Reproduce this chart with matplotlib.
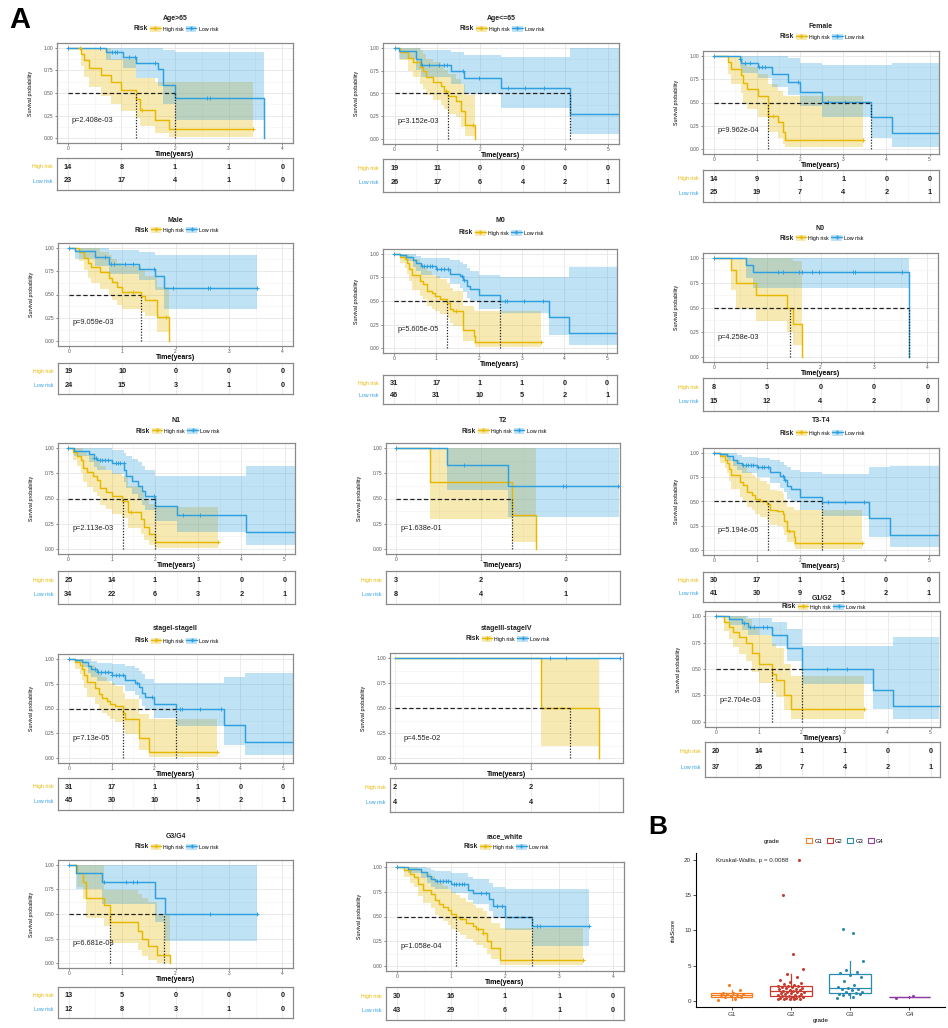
import numpy as np
import matplotlib
matplotlib.use("Agg")
import matplotlib.pyplot as plt
from matplotlib.lines import Line2D
from matplotlib.patches import Patch

plt.rcParams["font.family"] = ["Liberation Sans", "DejaVu Sans"]

W, H = 948, 1028
HIGH_COL = "#E7B800"
LOW_COL = "#2E9FDF"

# ── KM curves: step times, survival, CI bounds, censor times ──
AGE_GT65_HIGH = dict(t=[0, 0.24, 0.30, 0.40, 0.62, 0.80, 0.99, 1.28, 1.34, 1.62, 1.89, 3.45],
                     s=[1.0, 0.93, 0.86, 0.78, 0.70, 0.62, 0.53, 0.43, 0.31, 0.20, 0.10, 0.10],
                     lo=[1.0, 0.80, 0.68, 0.57, 0.47, 0.38, 0.30, 0.22, 0.14, 0.06, 0.02, 0.02],
                     hi=[1.0, 1.0, 1.0, 1.0, 1.0, 0.87, 0.87, 0.67, 0.67, 0.62, 0.62, 0.62],
                     cens=[0.22, 1.38, 3.45])
AGE_GT65_LOW = dict(t=[0, 0.72, 1.03, 1.28, 1.69, 1.78, 2.0, 3.66],
                    s=[1.0, 0.95, 0.90, 0.83, 0.76, 0.59, 0.44, 0.0],
                    lo=[1.0, 0.86, 0.77, 0.67, 0.58, 0.38, 0.20, 0.0],
                    hi=[1.0, 1.0, 1.0, 1.0, 1.0, 0.97, 0.95, 0.0],
                    cens=[0.0, 0.6, 0.82, 0.88, 0.92, 1.15, 1.25, 1.63, 2.6, 2.65])

AGE_LE65_HIGH = dict(t=[0, 0.12, 0.31, 0.43, 0.59, 0.66, 0.74, 0.90, 1.09, 1.17, 1.25, 1.45, 1.56, 1.64, 1.88],
                     s=[1.0, 0.95, 0.89, 0.84, 0.79, 0.74, 0.68, 0.63, 0.58, 0.53, 0.47, 0.42, 0.31, 0.16, 0.0],
                     lo=[1.0, 0.87, 0.75, 0.68, 0.60, 0.55, 0.48, 0.43, 0.38, 0.33, 0.28, 0.24, 0.13, 0.04, 0.0],
                     hi=[1.0, 1.0, 1.0, 1.0, 0.97, 0.93, 0.88, 0.84, 0.80, 0.76, 0.71, 0.66, 0.60, 0.48, 0.0],
                     cens=[1.2, 1.85])
AGE_LE65_LOW = dict(t=[0, 0.10, 0.50, 0.63, 1.33, 1.62, 2.50, 4.12, 5.26],
                    s=[1.0, 0.96, 0.88, 0.81, 0.74, 0.67, 0.555, 0.28, 0.28],
                    lo=[1.0, 0.88, 0.76, 0.68, 0.60, 0.50, 0.34, 0.06, 0.06],
                    hi=[1.0, 1.0, 1.0, 0.97, 0.95, 0.92, 0.90, 1.0, 1.0],
                    cens=[0.02, 0.65, 0.8, 1.05, 1.15, 1.22, 1.6, 1.98, 2.65, 3.05, 3.5])

FEMALE_HIGH = dict(t=[0, 0.33, 0.41, 0.64, 0.68, 0.77, 1.03, 1.26, 1.49, 1.60, 1.66, 3.45],
                   s=[1.0, 0.93, 0.86, 0.79, 0.71, 0.64, 0.57, 0.36, 0.29, 0.19, 0.095, 0.095],
                   lo=[1.0, 0.80, 0.70, 0.60, 0.50, 0.43, 0.35, 0.18, 0.12, 0.06, 0.02, 0.02],
                   hi=[1.0, 1.0, 1.0, 1.0, 0.92, 0.88, 0.80, 0.70, 0.62, 0.57, 0.57, 0.57],
                   cens=[1.38, 3.45])
FEMALE_LOW = dict(t=[0, 0.60, 0.64, 1.03, 1.34, 1.72, 2.00, 2.50, 3.65, 4.12, 5.22],
                  s=[1.0, 0.96, 0.92, 0.88, 0.80, 0.72, 0.61, 0.51, 0.34, 0.17, 0.17],
                  lo=[1.0, 0.88, 0.82, 0.76, 0.67, 0.58, 0.46, 0.35, 0.12, 0.03, 0.03],
                  hi=[1.0, 1.0, 1.0, 1.0, 1.0, 0.97, 0.92, 0.90, 0.90, 0.92, 0.92],
                  cens=[0.0, 0.6, 0.72, 0.85, 1.05, 1.12, 1.18, 1.95, 2.65, 3.05])

MALE_HIGH = dict(t=[0, 0.19, 0.28, 0.36, 0.41, 0.59, 0.75, 0.81, 0.91, 1.00, 1.36, 1.42, 1.66, 1.88],
                 s=[1.0, 0.95, 0.89, 0.84, 0.79, 0.74, 0.68, 0.63, 0.58, 0.53, 0.48, 0.44, 0.26, 0.0],
                 lo=[1.0, 0.86, 0.76, 0.68, 0.62, 0.56, 0.49, 0.44, 0.39, 0.35, 0.31, 0.27, 0.10, 0.0],
                 hi=[1.0, 1.0, 1.0, 1.0, 1.0, 0.95, 0.92, 0.88, 0.84, 0.80, 0.76, 0.70, 0.58, 0.0],
                 cens=[1.2, 1.82])
MALE_LOW = dict(t=[0, 0.12, 0.50, 0.75, 1.31, 1.62, 1.78, 3.53],
                s=[1.0, 0.96, 0.90, 0.83, 0.77, 0.70, 0.57, 0.57],
                lo=[1.0, 0.88, 0.80, 0.72, 0.65, 0.55, 0.35, 0.35],
                hi=[1.0, 1.0, 1.0, 0.97, 0.95, 0.92, 0.92, 0.92],
                cens=[0.0, 0.68, 0.8, 0.85, 1.05, 1.2, 1.6, 1.95, 2.6, 2.65, 3.53])

M0_HIGH = dict(t=[0, 0.14, 0.26, 0.31, 0.36, 0.42, 0.61, 0.69, 0.78, 0.89, 0.96, 1.08, 1.26, 1.33, 1.38, 1.63, 1.87, 1.90, 3.45],
               s=[1.0, 0.97, 0.94, 0.90, 0.84, 0.77, 0.71, 0.68, 0.61, 0.58, 0.55, 0.52, 0.48, 0.42, 0.39, 0.19, 0.13, 0.065, 0.065],
               lo=[1.0, 0.90, 0.85, 0.79, 0.71, 0.62, 0.55, 0.52, 0.45, 0.42, 0.39, 0.36, 0.32, 0.27, 0.24, 0.08, 0.04, 0.01, 0.01],
               hi=[1.0, 1.0, 1.0, 1.0, 0.98, 0.94, 0.89, 0.87, 0.82, 0.78, 0.76, 0.73, 0.69, 0.64, 0.61, 0.45, 0.40, 0.39, 0.39],
               cens=[1.45, 3.45])
M0_LOW = dict(t=[0, 0.14, 0.30, 0.45, 0.53, 0.65, 1.00, 1.32, 1.55, 1.63, 1.71, 1.79, 2.00, 2.50, 3.63, 4.10, 5.23],
              s=[1.0, 0.99, 0.97, 0.93, 0.90, 0.87, 0.84, 0.79, 0.76, 0.72, 0.66, 0.63, 0.56, 0.50, 0.33, 0.165, 0.165],
              lo=[1.0, 0.96, 0.92, 0.86, 0.82, 0.78, 0.74, 0.68, 0.64, 0.60, 0.53, 0.50, 0.42, 0.37, 0.14, 0.03, 0.03],
              hi=[1.0, 1.0, 1.0, 1.0, 0.98, 0.96, 0.95, 0.93, 0.91, 0.89, 0.85, 0.82, 0.78, 0.75, 0.75, 0.86, 0.86],
              cens=[0.0, 0.66, 0.72, 0.78, 0.84, 0.9, 1.02, 1.1, 1.18, 1.27, 1.6, 1.65, 2.6, 2.65, 3.05, 3.5])

N0_HIGH = dict(t=[0, 0.33, 0.41, 0.80, 1.37, 1.49, 1.65],
               s=[1.0, 0.875, 0.75, 0.625, 0.5, 0.333, 0.0],
               lo=[1.0, 0.68, 0.48, 0.36, 0.25, 0.12, 0.0],
               hi=[1.0, 1.0, 1.0, 1.0, 1.0, 0.97, 0.0],
               cens=[])
N0_LOW = dict(t=[0, 0.61, 0.73, 3.65],
              s=[1.0, 0.93, 0.857, 0.0],
              lo=[1.0, 0.80, 0.70, 0.0],
              hi=[1.0, 1.0, 1.0, 0.0],
              cens=[0.0, 1.2, 1.3, 1.6, 1.65, 1.85, 1.97, 2.6, 2.65, 3.52])

N1_HIGH = dict(t=[0, 0.10, 0.19, 0.29, 0.33, 0.43, 0.57, 0.67, 0.74, 0.86, 1.00, 1.25, 1.38, 1.67, 1.76, 1.86, 2.00, 3.45],
               s=[1.0, 0.96, 0.92, 0.88, 0.80, 0.76, 0.72, 0.68, 0.60, 0.56, 0.52, 0.48, 0.37, 0.30, 0.22, 0.15, 0.07, 0.07],
               lo=[1.0, 0.88, 0.82, 0.75, 0.66, 0.61, 0.56, 0.52, 0.44, 0.40, 0.35, 0.31, 0.21, 0.15, 0.09, 0.04, 0.01, 0.01],
               hi=[1.0, 1.0, 1.0, 1.0, 0.96, 0.93, 0.90, 0.87, 0.82, 0.78, 0.75, 0.72, 0.62, 0.57, 0.50, 0.45, 0.42, 0.42],
               cens=[1.45, 3.45])
N1_LOW = dict(t=[0, 0.14, 0.48, 0.60, 0.67, 1.00, 1.29, 1.33, 1.48, 1.62, 1.71, 1.78, 2.00, 2.50, 4.10, 5.24],
              s=[1.0, 0.97, 0.94, 0.90, 0.88, 0.85, 0.78, 0.72, 0.67, 0.62, 0.57, 0.52, 0.43, 0.34, 0.17, 0.17],
              lo=[1.0, 0.92, 0.86, 0.81, 0.78, 0.74, 0.66, 0.60, 0.54, 0.49, 0.44, 0.39, 0.28, 0.17, 0.04, 0.04],
              hi=[1.0, 1.0, 1.0, 1.0, 1.0, 0.98, 0.95, 0.92, 0.89, 0.86, 0.82, 0.78, 0.72, 0.72, 0.82, 0.82],
              cens=[0.0, 0.6, 0.65, 0.72, 0.78, 0.85, 0.92, 1.1, 1.15, 1.2, 1.28, 1.98, 2.65, 3.05])

T2_HIGH = dict(t=[0, 0.40, 1.365, 1.65],
               s=[1.0, 0.667, 0.333, 0.0],
               lo=[1.0, 0.30, 0.07, 0.0],
               hi=[1.0, 1.0, 1.0, 0.0],
               cens=[])
T2_LOW = dict(t=[0, 0.60, 1.32, 2.63],
              s=[1.0, 0.833, 0.625, 0.625],
              lo=[1.0, 0.58, 0.32, 0.32],
              hi=[1.0, 1.0, 1.0, 1.0],
              cens=[0.0, 0.8, 1.97, 2.0, 2.62])

T34_HIGH = dict(t=[0, 0.14, 0.26, 0.31, 0.36, 0.41, 0.61, 0.68, 0.78, 0.88, 0.96, 1.07, 1.25, 1.32, 1.46, 1.60, 1.63, 1.70, 1.87, 1.90, 3.45],
                s=[1.0, 0.97, 0.93, 0.90, 0.83, 0.77, 0.70, 0.67, 0.60, 0.57, 0.53, 0.50, 0.47, 0.41, 0.40, 0.37, 0.30, 0.20, 0.13, 0.07, 0.07],
                lo=[1.0, 0.90, 0.84, 0.79, 0.71, 0.63, 0.55, 0.51, 0.44, 0.41, 0.37, 0.34, 0.31, 0.26, 0.25, 0.22, 0.16, 0.08, 0.04, 0.01, 0.01],
                hi=[1.0, 1.0, 1.0, 1.0, 0.97, 0.93, 0.88, 0.86, 0.80, 0.77, 0.74, 0.71, 0.68, 0.62, 0.61, 0.58, 0.52, 0.44, 0.41, 0.41, 0.41],
                cens=[1.75, 3.45])
T34_LOW = dict(t=[0, 0.14, 0.30, 0.45, 0.53, 0.65, 1.00, 1.32, 1.55, 1.63, 1.71, 1.79, 2.00, 2.51, 3.60, 4.10, 5.24],
               s=[1.0, 0.99, 0.97, 0.93, 0.90, 0.88, 0.85, 0.80, 0.76, 0.72, 0.66, 0.63, 0.55, 0.49, 0.33, 0.16, 0.16],
               lo=[1.0, 0.96, 0.92, 0.86, 0.82, 0.79, 0.75, 0.69, 0.64, 0.60, 0.53, 0.50, 0.41, 0.35, 0.13, 0.03, 0.03],
               hi=[1.0, 1.0, 1.0, 1.0, 0.98, 0.96, 0.95, 0.93, 0.91, 0.88, 0.85, 0.82, 0.80, 0.78, 0.85, 0.87, 0.87],
               cens=[0.0, 0.68, 0.74, 0.8, 0.86, 0.92, 1.04, 1.12, 1.18, 1.27, 1.6, 1.65, 2.65, 3.05, 3.5])

ST12_HIGH = dict(t=[0, 0.14, 0.26, 0.31, 0.36, 0.42, 0.61, 0.70, 0.78, 0.89, 0.96, 1.08, 1.27, 1.31, 1.63, 1.87, 3.45],
                 s=[1.0, 0.97, 0.94, 0.90, 0.84, 0.77, 0.71, 0.65, 0.61, 0.58, 0.55, 0.53, 0.45, 0.39, 0.20, 0.065, 0.065],
                 lo=[1.0, 0.90, 0.85, 0.79, 0.71, 0.62, 0.55, 0.49, 0.45, 0.42, 0.39, 0.36, 0.29, 0.24, 0.08, 0.01, 0.01],
                 hi=[1.0, 1.0, 1.0, 1.0, 0.98, 0.94, 0.89, 0.85, 0.82, 0.78, 0.76, 0.73, 0.66, 0.60, 0.44, 0.39, 0.39],
                 cens=[3.45])
ST12_LOW = dict(t=[0, 0.14, 0.30, 0.45, 0.53, 0.65, 1.00, 1.32, 1.55, 1.63, 1.71, 1.79, 2.00, 2.50, 3.63, 4.12, 5.23],
                s=[1.0, 0.99, 0.97, 0.93, 0.90, 0.87, 0.84, 0.79, 0.76, 0.72, 0.66, 0.62, 0.55, 0.50, 0.33, 0.16, 0.16],
                lo=[1.0, 0.96, 0.92, 0.86, 0.82, 0.78, 0.74, 0.68, 0.64, 0.60, 0.53, 0.48, 0.40, 0.32, 0.13, 0.03, 0.03],
                hi=[1.0, 1.0, 1.0, 1.0, 0.98, 0.96, 0.95, 0.93, 0.91, 0.88, 0.85, 0.80, 0.76, 0.76, 0.82, 0.86, 0.86],
                cens=[0.0, 0.62, 0.68, 0.76, 0.84, 0.92, 1.02, 1.1, 1.18, 1.27, 1.6, 1.95, 2.6, 2.65, 3.05, 3.55])

ST34_HIGH = dict(t=[0, 1.08, 1.50], s=[1.0, 0.5, 0.0],
                 lo=[1.0, 0.12, 0.0], hi=[1.0, 1.0, 0.0], cens=[])
ST34_LOW = dict(t=[0, 1.66], s=[1.0, 1.0],
                lo=[1.0, 1.0], hi=[1.0, 1.0], cens=[1.14, 1.26, 1.66])

G12_HIGH = dict(t=[0, 0.2, 0.3, 0.4, 0.55, 0.7, 0.85, 1.0, 1.3, 1.4, 1.6, 1.75, 3.45],
                s=[1.0, 0.95, 0.90, 0.85, 0.80, 0.75, 0.65, 0.55, 0.45, 0.40, 0.25, 0.12, 0.12],
                lo=[1.0, 0.86, 0.78, 0.71, 0.64, 0.58, 0.47, 0.37, 0.28, 0.23, 0.11, 0.03, 0.03],
                hi=[1.0, 1.0, 1.0, 1.0, 1.0, 0.97, 0.90, 0.82, 0.74, 0.70, 0.55, 0.43, 0.43],
                cens=[3.45])
G12_LOW = dict(t=[0, 0.3, 0.6, 0.75, 1.3, 1.65, 2.0, 3.65, 4.12, 5.2],
               s=[1.0, 0.97, 0.94, 0.90, 0.82, 0.70, 0.50, 0.30, 0.15, 0.15],
               lo=[1.0, 0.92, 0.87, 0.82, 0.72, 0.58, 0.36, 0.12, 0.03, 0.03],
               hi=[1.0, 1.0, 1.0, 0.98, 0.95, 0.88, 0.72, 0.72, 0.80, 0.80],
               cens=[0.0, 0.65, 0.8, 0.9, 1.1, 1.2, 2.6, 3.05])

G34_HIGH = dict(t=[0, 0.15, 0.27, 0.33, 0.66, 0.77, 1.30, 1.37, 1.48, 1.65, 1.90],
                s=[1.0, 0.92, 0.83, 0.66, 0.59, 0.42, 0.33, 0.25, 0.17, 0.085, 0.0],
                lo=[1.0, 0.78, 0.65, 0.46, 0.38, 0.20, 0.13, 0.07, 0.03, 0.005, 0.0],
                hi=[1.0, 1.0, 1.0, 1.0, 0.74, 0.74, 0.70, 0.66, 0.62, 0.50, 0.0],
                cens=[])
G34_LOW = dict(t=[0, 0.14, 0.62, 1.62, 1.80, 3.52],
               s=[1.0, 0.917, 0.825, 0.66, 0.495, 0.495],
               lo=[1.0, 0.75, 0.60, 0.42, 0.23, 0.23],
               hi=[1.0, 1.0, 1.0, 1.0, 1.0, 1.0],
               cens=[0.0, 0.67, 1.07, 1.2, 1.27, 2.65, 3.52])

RACE_HIGH = dict(t=[0, 0.13, 0.25, 0.32, 0.40, 0.48, 0.63, 0.70, 0.78, 0.86, 0.94, 1.01, 1.09, 1.16, 1.28, 1.40, 1.47, 1.59, 1.66, 1.74, 1.91, 3.45],
                 s=[1.0, 0.97, 0.93, 0.90, 0.83, 0.77, 0.73, 0.67, 0.63, 0.60, 0.57, 0.53, 0.50, 0.47, 0.43, 0.40, 0.37, 0.33, 0.25, 0.18, 0.06, 0.06],
                 lo=[1.0, 0.90, 0.84, 0.80, 0.71, 0.64, 0.59, 0.52, 0.48, 0.45, 0.41, 0.37, 0.34, 0.31, 0.27, 0.24, 0.21, 0.18, 0.12, 0.07, 0.01, 0.01],
                 hi=[1.0, 1.0, 1.0, 1.0, 0.97, 0.94, 0.91, 0.87, 0.84, 0.81, 0.78, 0.75, 0.72, 0.69, 0.65, 0.62, 0.59, 0.56, 0.49, 0.43, 0.38, 0.38],
                 cens=[1.5, 1.6, 3.45])
RACE_LOW = dict(t=[0, 0.20, 0.45, 0.55, 0.63, 0.70, 1.01, 1.32, 1.40, 1.70, 1.78, 2.00, 2.50, 3.55],
                s=[1.0, 0.98, 0.95, 0.91, 0.88, 0.86, 0.83, 0.77, 0.74, 0.68, 0.61, 0.50, 0.40, 0.40],
                lo=[1.0, 0.94, 0.89, 0.84, 0.80, 0.78, 0.74, 0.67, 0.63, 0.56, 0.48, 0.36, 0.20, 0.20],
                hi=[1.0, 1.0, 1.0, 0.99, 0.97, 0.96, 0.94, 0.90, 0.88, 0.84, 0.80, 0.78, 0.78, 0.78],
                cens=[0.0, 0.75, 0.8, 0.85, 0.9, 0.95, 1.05, 1.1, 1.15, 1.2, 1.25, 1.55, 1.65, 1.85, 1.95, 2.6, 2.65, 3.55])

# title, high, low, medians, p-value, number at risk (high, low)
PANELS = [
    ("Age>65", AGE_GT65_HIGH, AGE_GT65_LOW, [1.28, 2.0], "p=2.408e-03", [14, 8, 1, 1, 0], [23, 17, 4, 1, 0]),
    ("Age<=65", AGE_LE65_HIGH, AGE_LE65_LOW, [1.25, 4.12], "p=3.152e-03", [19, 11, 0, 0, 0, 0], [26, 17, 6, 4, 2, 1]),
    ("Female", FEMALE_HIGH, FEMALE_LOW, [1.26, 3.65], "p=9.962e-04", [14, 9, 1, 1, 0, 0], [25, 19, 7, 4, 2, 1]),
    ("Male", MALE_HIGH, MALE_LOW, [1.36], "p=9.059e-03", [19, 10, 0, 0, 0], [24, 15, 3, 1, 0]),
    ("M0", M0_HIGH, M0_LOW, [1.26, 2.5], "p=5.605e-05", [31, 17, 1, 1, 0, 0], [46, 31, 10, 5, 2, 1]),
    ("N0", N0_HIGH, N0_LOW, [1.43, 3.65], "p=4.258e-03", [8, 5, 0, 0, 0], [15, 12, 4, 2, 0]),
    ("N1", N1_HIGH, N1_LOW, [1.27, 2.0], "p=2.113e-03", [25, 14, 1, 1, 0, 0], [34, 22, 6, 3, 2, 1]),
    ("T2", T2_HIGH, T2_LOW, [1.365], "p=1.638e-01", [3, 2, 0], [8, 4, 1]),
    ("T3-T4", T34_HIGH, T34_LOW, [1.27, 2.51], "p=5.194e-05", [30, 17, 1, 1, 0, 0], [41, 30, 9, 5, 2, 1]),
    ("stageI-stageII", ST12_HIGH, ST12_LOW, [1.27, 2.5], "p=7.13e-05", [31, 17, 1, 1, 0, 0], [45, 30, 10, 5, 2, 1]),
    ("stageIII-stageIV", ST34_HIGH, ST34_LOW, [1.29], "p=4.55e-02", [2, 2], [4, 4]),
    ("G1/G2", G12_HIGH, G12_LOW, [1.3, 2.0], "p=2.704e-03", [20, 14, 1, 1, 0, 0], [37, 26, 7, 4, 2, 1]),
    ("G3/G4", G34_HIGH, G34_LOW, [0.77, 1.79], "p=6.681e-03", [13, 5, 0, 0, 0], [12, 8, 3, 1, 0]),
    ("race_white", RACE_HIGH, RACE_LOW, [1.09, 2.5], "p=1.058e-04", [30, 16, 1, 1, 0], [43, 29, 6, 1, 0]),
]

# ── panel B: riskScore by grade ──
GRADES = ["G1", "G2", "G3", "G4"]
G1_SCORE = [0.1, 0.3, 0.5, 0.55, 0.6, 0.8, 0.85, 0.9, 1.0, 1.05, 1.1, 1.45, 2.2]
G2_SCORE = [0.2, 0.22, 0.25, 0.3, 0.3, 0.35, 0.4, 0.45, 0.5, 0.55, 0.6, 0.65, 0.7, 0.75, 0.8, 0.9,
            1.0, 1.05, 1.1, 1.2, 1.25, 1.3, 1.35, 1.4, 1.45, 1.5, 1.6, 1.7, 1.75, 1.8, 1.9, 2.0,
            2.05, 2.1, 2.15, 2.2, 2.3, 2.5, 2.7, 3.0, 3.3, 3.8, 4.5, 6.6, 15.0, 20.0]
G3_SCORE = [0.45, 0.55, 0.75, 0.9, 0.95, 1.0, 1.05, 1.2, 1.3, 1.5, 1.6, 1.7, 1.8, 2.0, 2.2, 2.8,
            3.4, 3.7, 3.9, 4.1, 4.3, 5.6, 9.6, 10.2]
G4_SCORE = [0.42, 0.62]
GRADE_COLS = ["#F57C1F", "#CB3A2E", "#2A8BB0", "#8C3FA0"]

# ── layout in reference pixels: axes box (l, r, t, b), table (t, b), title y, legend y, xlim ──
LAYOUT = {
    "Age>65": ((57, 293, 43, 143), (158, 190), 19, 29, (-0.2, 4.2)),
    "Age<=65": ((383, 619, 43, 144), (159, 192), 19, 29, (-0.27, 5.26)),
    "Female": ((703, 939, 51, 154), (170, 202), 27, 37, (-0.25, 5.22)),
    "Male": ((58, 293, 243, 346), (363, 394), 220, 230, (-0.2, 4.2)),
    "M0": ((383, 617, 249, 353), (375, 404), 221, 233, (-0.25, 5.23)),
    "N0": ((703, 938, 253, 362), (378, 411), 228, 238, (-0.2, 4.2)),
    "N1": ((58, 295, 443, 554), (571, 604), 421, 431, (-0.24, 5.24)),
    "T2": ((386, 620, 443, 554), (571, 604), 421, 431, (-0.12, 2.64)),
    "T3-T4": ((703, 939, 448, 555), (572, 602), 421, 433, (-0.25, 5.24)),
    "stageI-stageII": ((58, 293, 654, 763), (778, 810), 629, 641, (-0.25, 5.23)),
    "stageIII-stageIV": ((390, 623, 653, 763), (778, 812), 629, 639, (-0.035, 1.68)),
    "G1/G2": ((705, 940, 611, 727), (742, 777), 598, 607, (-0.25, 5.22)),
    "G3/G4": ((58, 293, 860, 968), (987, 1018), 837, 847, (-0.2, 4.2)),
    "race_white": ((386, 624, 862, 971), (987, 1020), 837, 847, (-0.2, 4.2)),
}


def rect(l, r, t, b):
    return [l / W, 1 - b / H, (r - l) / W, (b - t) / H]


def draw_group(ax, g, col):
    t = np.array(g["t"])
    s = np.array(g["s"])
    ax.step(t, s, where="post", color=col, lw=1.05, zorder=3)
    ct = np.array(g["cens"], dtype=float)
    if len(ct):
        idx = np.clip(np.searchsorted(t, ct, side="right") - 1, 0, len(s) - 1)
        ax.plot(ct, s[idx], ls="none", marker="+", ms=3.2, mew=0.7, color=col, zorder=4)


def grid_style(ax, xlim, nt):
    ax.set_xlim(*xlim)
    ax.set_xticks(range(nt))
    ax.set_xticks(np.arange(0.5, xlim[1], 1.0), minor=True)
    ax.grid(which="major", color="#E6E6E6", lw=0.6)
    ax.grid(which="minor", color="#F2F2F2", lw=0.4)
    ax.set_axisbelow(True)
    for sp in ax.spines.values():
        sp.set_color("#8A8A8A")
        sp.set_linewidth(0.9)
    ax.tick_params(which="minor", length=0)
    ax.tick_params(which="major", length=1.5, width=0.5, pad=1, labelsize=3.5,
                   colors="#555555")


fig = plt.figure(figsize=(W / 100, H / 100), dpi=100)
renderer = fig.canvas.get_renderer()

for name, high, low, meds, pval, n_high, n_low in PANELS:
    (l, r, t, b), (tt, tb), ty, ly, xlim = LAYOUT[name]
    nt = len(n_high)
    ax = fig.add_axes(rect(l, r, t, b))
    for g, col in [(high, HIGH_COL), (low, LOW_COL)]:
        ax.fill_between(g["t"], g["lo"], g["hi"], step="post", color=col, alpha=0.3,
                        lw=0, zorder=2)
    draw_group(ax, high, HIGH_COL)
    draw_group(ax, low, LOW_COL)
    # median survival lines
    m = max(meds)
    ax.plot([0, m], [0.5, 0.5], ls=(0, (3.5, 2)), color="#222222", lw=0.9, zorder=5)
    for md in meds:
        ax.plot([md, md], [0, 0.5], ls=(0, (1, 1.3)), color="#222222", lw=0.9, zorder=5)
    # p-value: fixed small offset from the left edge, at S = 0.2
    ax.text(0.06, 0.2, pval, transform=ax.get_yaxis_transform(), fontsize=5.3,
            color="#222222", va="center")
    grid_style(ax, xlim, nt)
    ax.set_ylim(-0.05, 1.05)
    ax.set_yticks([0, 0.25, 0.5, 0.75, 1.0])
    ax.set_yticklabels(["0.00", "0.25", "0.50", "0.75", "1.00"])
    ax.set_yticks([0.125, 0.375, 0.625, 0.875], minor=True)
    ax.set_ylabel("Survival probability", fontsize=3.8, labelpad=8)
    ax.set_xlabel("Time(years)", fontsize=5, fontweight="bold", labelpad=0)

    # risk table
    tab = fig.add_axes(rect(l, r, tt, tb))
    grid_style(tab, xlim, nt)
    tab.grid(axis="y", which="both", visible=False)
    tab.set_ylim(0.35, 2.65)
    tab.set_yticks([])
    tab.tick_params(axis="x", which="both", length=0, labelbottom=False)
    for i in range(nt):
        tab.text(i, 2, str(n_high[i]), ha="center", va="center", fontsize=5.3,
                 fontweight="bold", color="#222222")
        tab.text(i, 1, str(n_low[i]), ha="center", va="center", fontsize=5.3,
                 fontweight="bold", color="#222222")
    tab.text(-0.02, 0.72, "High risk", transform=tab.transAxes, ha="right", va="center",
             fontsize=3.8, color=HIGH_COL)
    tab.text(-0.02, 0.28, "Low risk", transform=tab.transAxes, ha="right", va="center",
             fontsize=3.8, color=LOW_COL)

    # title + legend ("Risk" label sits just left of the keys)
    cx = (l + r) / 2
    fig.text(cx / W, 1 - ty / H, name, ha="center", va="center", fontsize=5,
             fontweight="bold", color="#222222")
    handles = [(Patch(facecolor=HIGH_COL, alpha=0.3, lw=0),
                Line2D([], [], color=HIGH_COL, lw=1, marker="+", ms=3)),
               (Patch(facecolor=LOW_COL, alpha=0.3, lw=0),
                Line2D([], [], color=LOW_COL, lw=1, marker="+", ms=3))]
    leg = fig.legend(handles, ["High risk", "Low risk"], loc="center",
                     bbox_to_anchor=((cx + 9) / W, 1 - ly / H), ncol=2, frameon=False,
                     fontsize=3.8, handlelength=2.0, handleheight=1.3,
                     handletextpad=0.4, columnspacing=0.5, borderpad=0)
    x0 = leg.get_window_extent(renderer).x0
    fig.text((x0 - 2) / W, 1 - ly / H, "Risk", ha="right", va="center", fontsize=4.8,
             fontweight="bold", color="#222222")

fig.text(20 / W, 1 - 20 / H, "A", ha="center", va="center", fontsize=21, fontweight="bold")
fig.text(658 / W, 1 - 827 / H, "B", ha="center", va="center", fontsize=19, fontweight="bold")

# ── panel B boxplot ──
axb = fig.add_axes(rect(696, 945, 853, 1007))
scores = [G1_SCORE, G2_SCORE, G3_SCORE, G4_SCORE]
for i, (vals, col) in enumerate(zip(scores, GRADE_COLS)):
    pos = i + 1
    axb.boxplot([vals], positions=[pos], widths=0.7, showfliers=False, showcaps=False,
                patch_artist=True,
                boxprops=dict(facecolor="white", edgecolor=col, lw=0.9),
                medianprops=dict(color=col, lw=0.9),
                whiskerprops=dict(color=col, lw=0.9))
    n = len(vals)
    offs = ((np.arange(n) * 0.618034) % 1.0 - 0.5) * 0.45
    axb.plot(pos + offs, vals, ls="none", marker="o", ms=2.2, color=col, mew=0, zorder=4)
axb.set_xlim(0.4, 4.6)
axb.set_ylim(-0.9, 21.0)
axb.set_xticks([1, 2, 3, 4])
axb.set_xticklabels(GRADES)
axb.set_yticks([0, 5, 10, 15, 20])
for side in ["top", "right"]:
    axb.spines[side].set_visible(False)
for side in ["left", "bottom"]:
    axb.spines[side].set_linewidth(0.8)
axb.tick_params(labelsize=4.5, length=2, width=0.6, pad=1.5, colors="#333333")
axb.set_ylabel("riskScore", fontsize=4, labelpad=6)
axb.set_xlabel("grade", fontsize=4.5, labelpad=1)
axb.text(0.73, 20, "Kruskal-Wallis, p = 0.0088", fontsize=4.5, va="center", color="#222222")

fig.text(772 / W, 1 - 841 / H, "grade", ha="center", va="center", fontsize=4.5)
bh = [Patch(facecolor="white", edgecolor=c, lw=0.8) for c in GRADE_COLS]
fig.legend(bh, GRADES, loc="center", bbox_to_anchor=(845 / W, 1 - 841 / H), ncol=4,
           frameon=False, fontsize=4.2, handlelength=1.0, handleheight=0.8,
           handletextpad=0.4, columnspacing=0.8, borderpad=0)

fig.savefig("out.png", dpi=100, facecolor="white")
